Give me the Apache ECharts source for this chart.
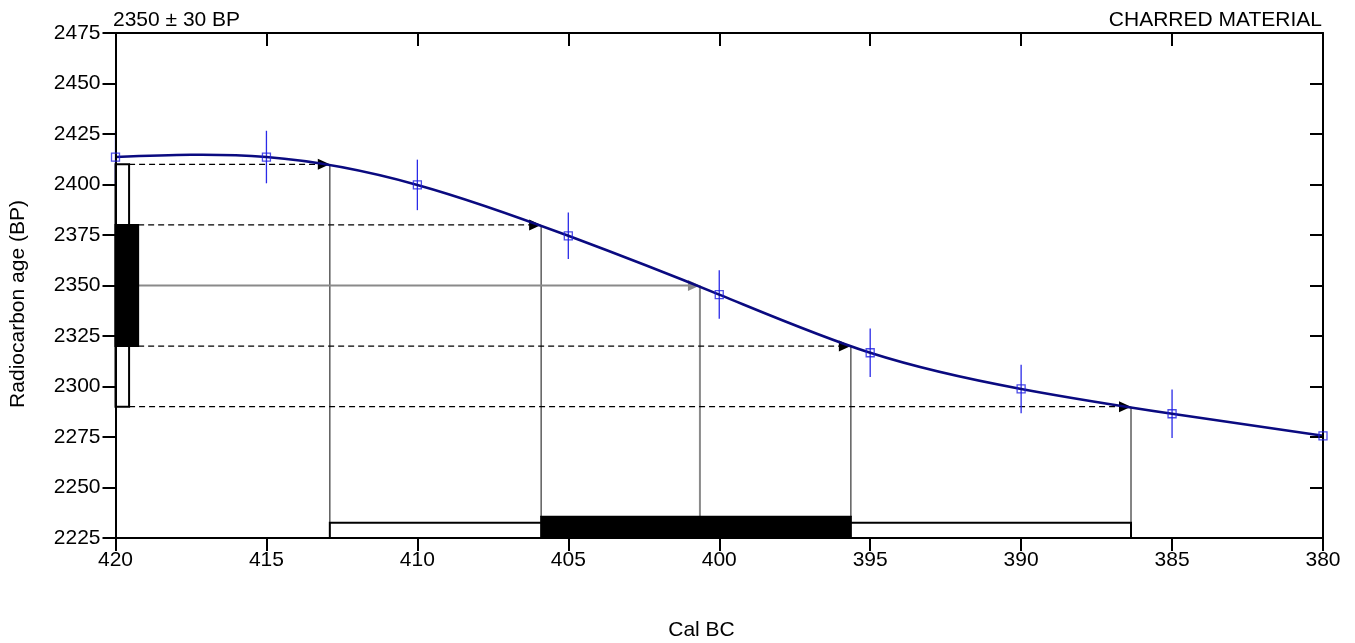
<!DOCTYPE html>
<html><head><meta charset="utf-8">
<script src="https://cdn.jsdelivr.net/npm/echarts@6/dist/echarts.min.js"></script>
<style>html,body{margin:0;padding:0;background:#fff}#c{width:1355px;height:643px}</style>
</head><body><div id="c"></div>
<script>
// ---- data ----
const calYears = [420, 415, 410, 405, 400, 395, 390, 385, 380];
const calAge   = [2413.6, 2413.6, 2399.8, 2374.6, 2345.5, 2316.7, 2298.8, 2286.5, 2275.6];
const calErr   = [13, 13, 12.5, 11.5, 12, 12, 12, 12, 12];
const sampleAge = 2350;
const sampleErr = 30;
const oneSigmaAges = [2380, 2320];
const twoSigmaAges = [2410, 2290];
const hitAges  = [2410, 2380, 2350, 2320, 2290];
const hitYears = [412.9, 405.9, 400.64, 395.64, 386.36];
const oneSigmaRange = [405.9, 395.64];
const twoSigmaRange = [412.9, 386.36];
const xTickLabels = ['420','415','410','405','400','395','390','385','380'];
const titleLeft = '2350 ± 30 BP';
const titleRight = 'CHARRED MATERIAL';

// ---- sizes (display only) ----
const X0 = 420, Y0 = 2225;
const leftBar2W = 0.45, leftBar1W = 0.75;   // years
const botBar2H = 7.5, botBar1H = 10.5;      // BP
const FONT = '"Liberation Sans", Arial, sans-serif';
const FS = 21;

function yearOf(age){ return hitYears[hitAges.indexOf(age)]; }

// arrows: [startYear, age, endYear, kind]  kind 0 = dashed black, 1 = grey solid
const arrows = [];
[twoSigmaAges[0], oneSigmaAges[0], oneSigmaAges[1], twoSigmaAges[1]].forEach(a => {
  const start = twoSigmaAges.includes(a) ? X0 - leftBar2W : X0 - leftBar1W;
  arrows.push([start, a, yearOf(a), 0]);
});
arrows.push([X0 - leftBar1W, sampleAge, yearOf(sampleAge), 1]);

// verticals: [year, fromAge, toAge, kind]
const verticals = [];
twoSigmaAges.forEach(a => verticals.push([yearOf(a), a, Y0 + botBar2H, 0]));
oneSigmaAges.forEach(a => verticals.push([yearOf(a), a, Y0 + botBar1H, 0]));
verticals.push([yearOf(sampleAge), sampleAge, Y0 + botBar1H, 1]);

const rects = [
  [X0, X0 - leftBar2W, twoSigmaAges[1], twoSigmaAges[0], 0],
  [X0, X0 - leftBar1W, oneSigmaAges[1], oneSigmaAges[0], 1],
  [twoSigmaRange[0], twoSigmaRange[1], Y0, Y0 + botBar2H, 0],
  [oneSigmaRange[0], oneSigmaRange[1], Y0, Y0 + botBar1H, 1]
];

const errData = calYears.map((x, i) => [x, calAge[i] - calErr[i], calAge[i] + calErr[i]]);
const curveData = calYears.map((x, i) => [x, calAge[i]]);

// natural cubic spline through pixel points, returned as SVG path data
function splinePath(pts) {
  const n = pts.length;
  const h = [], d = [];
  for (let i = 0; i < n - 1; i++) { h.push(pts[i+1][0] - pts[i][0]); d.push((pts[i+1][1] - pts[i][1]) / h[i]); }
  const M = new Array(n).fill(0);
  const a = [], b = [], c = [], r = [];
  for (let i = 1; i < n - 1; i++) { a.push(h[i-1]); b.push(2 * (h[i-1] + h[i])); c.push(h[i]); r.push(6 * (d[i] - d[i-1])); }
  const m = b.length;
  for (let i = 1; i < m; i++) { const w = a[i] / b[i-1]; b[i] -= w * c[i-1]; r[i] -= w * r[i-1]; }
  const sol = new Array(m);
  for (let i = m - 1; i >= 0; i--) sol[i] = (r[i] - (i < m - 1 ? c[i] * sol[i+1] : 0)) / b[i];
  for (let i = 0; i < m; i++) M[i+1] = sol[i];
  const slope = [];
  for (let i = 0; i < n - 1; i++) slope.push(d[i] - h[i] * (2 * M[i] + M[i+1]) / 6);
  slope.push(d[n-2] + h[n-2] * (M[n-2] + 2 * M[n-1]) / 6);
  let p = 'M' + pts[0][0] + ' ' + pts[0][1];
  for (let i = 0; i < n - 1; i++) {
    const hh = h[i] / 3;
    p += ' C' + (pts[i][0] + hh) + ' ' + (pts[i][1] + slope[i] * hh) + ' ' +
         (pts[i+1][0] - hh) + ' ' + (pts[i+1][1] - slope[i+1] * hh) + ' ' + pts[i+1][0] + ' ' + pts[i+1][1];
  }
  return p;
}

const chart = echarts.init(document.getElementById('c'), null, {renderer: 'canvas'});
const axisLine = {show: true, lineStyle: {color: '#000', width: 2}};
const GREY = '#8a8a8a';
chart.setOption({
  animation: false,
  backgroundColor: '#fff',
  grid: {left: 115.5, right: 32, top: 33, bottom: 105, containLabel: false},
  xAxis: [
    {type: 'value', min: 380, max: 420, interval: 5, inverse: true, position: 'bottom', z: 5,
     axisLine, splitLine: {show: false},
     axisTick: {show: true, length: 13, lineStyle: {color: '#000', width: 2}},
     axisLabel: {margin: 12, color: '#000', fontSize: FS, fontFamily: FONT,
       formatter: v => xTickLabels[calYears.indexOf(v)] ?? String(v)}},
    {type: 'value', min: 380, max: 420, interval: 5, inverse: true, position: 'top', z: 5,
     axisLine, splitLine: {show: false},
     axisTick: {show: true, inside: true, length: 13, lineStyle: {color: '#000', width: 2}},
     axisLabel: {show: false}}
  ],
  yAxis: [
    {type: 'value', min: 2225, max: 2475, interval: 25, position: 'left', z: 5,
     axisLine, splitLine: {show: false},
     axisTick: {show: true, length: 13, lineStyle: {color: '#000', width: 2}},
     axisLabel: {margin: 15, color: '#000', fontSize: FS, fontFamily: FONT, formatter: v => String(v)}},
    {type: 'value', min: 2225, max: 2475, interval: 25, position: 'right', z: 5,
     axisLine, splitLine: {show: false},
     axisTick: {show: true, inside: true, length: 13, lineStyle: {color: '#000', width: 2}},
     axisLabel: {show: false}}
  ],
  graphic: [
    {type: 'text', x: 113, y: 20.5, style: {text: titleLeft, font: FS + 'px ' + FONT, fill: '#000', align: 'left', verticalAlign: 'middle'}},
    {type: 'text', x: 1322, y: 20.5, style: {text: titleRight, font: FS + 'px ' + FONT, fill: '#000', align: 'right', verticalAlign: 'middle'}},
    {type: 'text', x: 701.5, y: 630, style: {text: 'Cal BC', font: FS + 'px ' + FONT, fill: '#000', align: 'center', verticalAlign: 'middle'}},
    {type: 'text', x: 18, y: 304, rotation: Math.PI / 2, style: {text: 'Radiocarbon age (BP)', font: FS + 'px ' + FONT, fill: '#000', align: 'center', verticalAlign: 'middle'}}
  ],
  series: [
    {type: 'custom', name: 'ranges', xAxisIndex: 0, yAxisIndex: 0, z: 3,
     encode: {x: [0, 1], y: [2, 3]}, data: rects,
     renderItem: (params, api) => {
       const p0 = api.coord([api.value(0), api.value(2)]);
       const p1 = api.coord([api.value(1), api.value(3)]);
       return {type: 'rect',
         shape: {x: Math.min(p0[0], p1[0]), y: Math.min(p0[1], p1[1]), width: Math.abs(p1[0] - p0[0]), height: Math.abs(p1[1] - p0[1])},
         style: {fill: api.value(4) ? '#000' : '#fff', stroke: '#000', lineWidth: 2}};
     }},
    {type: 'custom', name: 'verticals', xAxisIndex: 0, yAxisIndex: 0, z: 2,
     encode: {x: 0, y: [1, 2]}, data: verticals,
     renderItem: (params, api) => {
       const a = api.coord([api.value(0), api.value(1)]);
       const b = api.coord([api.value(0), api.value(2)]);
       const grey = api.value(3) === 1;
       return {type: 'line', shape: {x1: a[0], y1: a[1], x2: b[0], y2: b[1]},
         style: {stroke: grey ? GREY : '#444', lineWidth: grey ? 2 : 1.3}};
     }},
    {type: 'custom', name: 'arrows', xAxisIndex: 0, yAxisIndex: 0, z: 2,
     encode: {x: [0, 2], y: 1}, data: arrows,
     renderItem: (params, api) => {
       const a = api.coord([api.value(0), api.value(1)]);
       const b = api.coord([api.value(2), api.value(1)]);
       const grey = api.value(3) === 1;
       const col = grey ? GREY : '#000';
       const L = 12, W = 5.5;
       return {type: 'group', children: [
         {type: 'line', shape: {x1: a[0], y1: a[1], x2: b[0] - L + 1, y2: b[1]},
          style: {stroke: col, lineWidth: grey ? 2 : 1.2, lineDash: grey ? null : [6, 4]}},
         {type: 'polygon', shape: {points: [[b[0], b[1]], [b[0] - L, b[1] - W], [b[0] - L, b[1] + W]]},
          style: {fill: col}}
       ]};
     }},
    {type: 'custom', name: 'err', xAxisIndex: 0, yAxisIndex: 0, z: 3,
     encode: {x: 0, y: [1, 2]}, data: errData,
     renderItem: (params, api) => {
       const a = api.coord([api.value(0), api.value(1)]);
       const b = api.coord([api.value(0), api.value(2)]);
       return {type: 'line', shape: {x1: a[0], y1: a[1], x2: b[0], y2: b[1]}, style: {stroke: '#2a2ae8', lineWidth: 1.3}};
     }},
    {type: 'custom', name: 'curve', xAxisIndex: 0, yAxisIndex: 0, z: 4,
     encode: {x: 0, y: 1}, data: curveData,
     renderItem: (params, api) => {
       if (params.dataIndex !== 0) return null;
       const pts = curveData.map(p => api.coord(p));
       return {type: 'path', shape: {pathData: splinePath(pts)},
         style: {stroke: '#0a0a80', lineWidth: 2.6, fill: null}};
     }},
    {type: 'scatter', name: 'pts', xAxisIndex: 0, yAxisIndex: 0, z: 6,
     data: curveData, symbol: 'rect', symbolSize: 8,
     itemStyle: {color: 'rgba(0,0,0,0)', borderColor: '#1f1fe0', borderWidth: 1.3}}
  ]
});
</script></body></html>
